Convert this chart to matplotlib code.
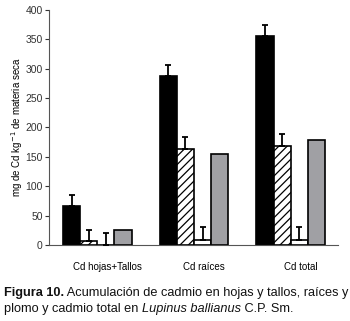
import numpy as np
import matplotlib.pyplot as plt

plt.rcParams["font.family"] = ["Liberation Sans", "DejaVu Sans"]
plt.rcParams["hatch.linewidth"] = 0.9

# Values
groups = ["Cd hojas+Tallos", "Cd raíces", "Cd total"]
black_vals = [67, 288, 355]
black_err = [18, 19, 19]
hatch_vals = [7, 164, 169]
hatch_err = [19, 19, 20]
white_vals = [0, 9, 9]
white_err = [21, 21, 22]
gray_vals = [26, 154, 179]

series = [
    (black_vals, black_err, "black", ""),
    (hatch_vals, hatch_err, "white", "////"),
    (white_vals, white_err, "white", ""),
    (gray_vals, None, "#a0a0a4", ""),
]

fig = plt.figure(figsize=(3.5, 3.21), dpi=100)
ax = fig.add_axes([0.14, 0.237, 0.826, 0.732])

w = 1.0
step = 5.65
x0 = np.arange(len(groups)) * step
for i, (vals, err, col, hatch) in enumerate(series):
    xs = x0 + i * w
    ax.bar(xs, vals, width=w, align="edge", color=col, edgecolor="black",
           linewidth=1.2, hatch=hatch, zorder=2)
    if err is not None:
        ax.errorbar(xs + w / 2, vals, yerr=[np.zeros(len(vals)), err], fmt="none",
                    ecolor="black", elinewidth=1.3, capsize=2.5, capthick=1.3, zorder=3)

ax.set_ylim(0, 400)
ax.set_yticks(range(0, 401, 50))
ax.set_xlim(-0.82, x0[-1] + 4 * w + 0.77)
ax.set_xticks(x0 + 2.6 * w)
ax.set_xticklabels(groups, fontsize=7)
ax.tick_params(axis="x", length=0, pad=12)
ax.tick_params(axis="y", labelsize=7.5, length=3, width=0.8, pad=1.5, colors="#333333")
ax.spines["top"].set_visible(False)
ax.spines["right"].set_visible(False)
ax.spines["left"].set_color("#555555")
ax.spines["bottom"].set_color("#555555")
ax.set_ylabel("mg de Cd kg$^{-1}$ de materia seca", fontsize=7)
ax.yaxis.set_label_coords(-0.083, 0.5)

# caption with mixed styles
fig.canvas.draw()
r = fig.canvas.get_renderer()


def put(parts, x, y):
    for txt, kw in parts:
        t = fig.text(x, y, txt, fontsize=9.15, va="baseline", color="#111111", **kw)
        bb = t.get_window_extent(renderer=r)
        x = (bb.x1) / fig.bbox.width


put([("Figura 10.", {"weight": "bold"}),
     (" Acumulación de cadmio en hojas y tallos, raíces y", {})], 0.011, 0.078)
put([("plomo y cadmio total en ", {}),
     ("Lupinus ballianus", {"style": "italic"}),
     (" C.P. Sm.", {})], 0.011, 0.028)

fig.savefig("out.png", dpi=100)
